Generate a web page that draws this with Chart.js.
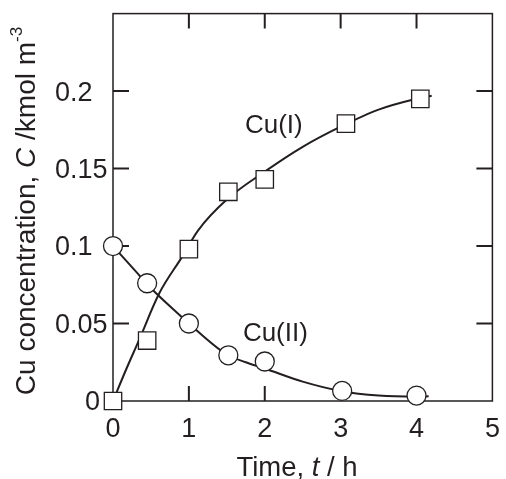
<!DOCTYPE html>
<html>
<head>
<meta charset="utf-8">
<script src="https://cdn.jsdelivr.net/npm/chart.js@4"></script>
<style>
  html, body { margin: 0; padding: 0; background: #fff; }
  #wrap { width: 506px; height: 479px; position: relative; }
</style>
</head>
<body>
<div id="wrap"><canvas id="chart"></canvas></div>
<script>
// --- data ---
const cu1Time = [0, 0.45, 1.0, 1.52, 2.0, 3.07, 4.05];
const cu1Conc = [0, 0.039, 0.098, 0.135, 0.143, 0.179, 0.195];
const cu2Time = [0, 0.45, 1.0, 1.52, 2.0, 3.02, 4.0];
const cu2Conc = [0.1, 0.076, 0.05, 0.0295, 0.0255, 0.0065, 0.0035];

// fitted curves (traced)
const cu1CurveTime = [0, 0.17, 0.34, 0.61, 0.91, 1.12, 1.5, 2.0, 2.5, 3.0, 3.5, 4.0, 4.2];
const cu1CurveConc = [0, 0.02, 0.039, 0.0695, 0.093, 0.11, 0.13, 0.148, 0.164, 0.177, 0.188, 0.195, 0.197];
const cu2CurveTime = [0, 0.33, 0.455, 0.91, 1.0, 1.5, 1.75, 2.0, 2.5, 3.0, 3.5, 4.0, 4.16];
const cu2CurveConc = [0.1, 0.082, 0.075, 0.054, 0.05, 0.03, 0.025, 0.021, 0.0125, 0.0065, 0.0035, 0.0028, 0.003];

const xTickLabels = ['0', '1', '2', '3', '4', '5'];
const yTickLabels = ['0', '0.05', '0.1', '0.15', '0.2'];

const seriesNames = ['Cu(I)', 'Cu(II)'];
const labelAnchors = [[2.12, 0.179], [2.14, 0.0445]];

const INK = '#231f20';
const FONT = '"Liberation Sans", Arial, sans-serif';

const pts = (xs, ys) => xs.map((x, i) => ({ x: x, y: ys[i] }));

// frame + inward ticks go under the marks, text on top
const decorPlugin = {
    id: 'decor',
    beforeDatasetsDraw(chart) {
        const { ctx, chartArea: a, scales } = chart;
        const xs = scales.x, ys = scales.y;
        ctx.save();
        ctx.strokeStyle = INK;
        ctx.lineWidth = 1.5;
        ctx.strokeRect(a.left, a.top, a.right - a.left, a.bottom - a.top);

        ctx.lineWidth = 2;
        ctx.beginPath();
        [1, 2, 3, 4].forEach(v => {
            const px = xs.getPixelForValue(v);
            ctx.moveTo(px, a.bottom); ctx.lineTo(px, a.bottom - 15);
            ctx.moveTo(px, a.top); ctx.lineTo(px, a.top + 15);
        });
        [0.05, 0.1, 0.15, 0.2].forEach(v => {
            const py = ys.getPixelForValue(v);
            ctx.moveTo(a.left, py); ctx.lineTo(a.left + 16, py);
            ctx.moveTo(a.right, py); ctx.lineTo(a.right - 16, py);
        });
        ctx.stroke();
        ctx.restore();
    },
    afterDraw(chart) {
        const { ctx, scales } = chart;
        const xs = scales.x, ys = scales.y;
        ctx.save();
        ctx.fillStyle = INK;
        ctx.textBaseline = 'alphabetic';

        // curve labels
        ctx.font = '26px ' + FONT;
        ctx.textAlign = 'center';
        seriesNames.forEach((name, i) => {
            const px = xs.getPixelForValue(labelAnchors[i][0]);
            const py = ys.getPixelForValue(labelAnchors[i][1]);
            ctx.fillText(name, px, py + 9);
        });

        // x title
        drawRich(ctx, [
            { t: 'Time, ' },
            { t: 't', it: true },
            { t: ' / h' }
        ], 297, 476, 27.5);

        // y title (rotated)
        ctx.translate(35, 211);
        ctx.rotate(-Math.PI / 2);
        drawRich(ctx, [
            { t: 'Cu concentration, ' },
            { t: 'C', it: true },
            { t: ' /kmol m' },
            { t: '-3', sup: true }
        ], 0, 0, 28);
        ctx.restore();
    }
};

function drawRich(ctx, parts, cx, baseY, size) {
    const fontOf = p => (p.it ? 'italic ' : '') + (p.sup ? Math.round(size * 0.62) : size) + 'px ' + FONT;
    let total = 0;
    parts.forEach(p => { ctx.font = fontOf(p); p.w = ctx.measureText(p.t).width; total += p.w; });
    let x = cx - total / 2;
    ctx.textAlign = 'left';
    parts.forEach(p => {
        ctx.font = fontOf(p);
        ctx.fillText(p.t, x, p.sup ? baseY - size * 0.45 : baseY);
        x += p.w;
    });
}

const markerBase = {
    type: 'scatter',
    showLine: false,
    pointBackgroundColor: '#fff',
    pointBorderColor: INK,
    pointBorderWidth: 1.3,
    clip: false
};
const curveBase = {
    type: 'line',
    showLine: true,
    pointRadius: 0,
    borderColor: INK,
    borderWidth: 2,
    cubicInterpolationMode: 'monotone',
    fill: false,
    clip: false
};

new Chart(document.getElementById('chart'), {
    type: 'scatter',
    data: {
        datasets: [
            { ...markerBase, label: 'Cu(I)', data: pts(cu1Time, cu1Conc), pointStyle: 'rect', pointRadius: 12.3, order: 1 },
            { ...markerBase, label: 'Cu(II)', data: pts(cu2Time, cu2Conc), pointStyle: 'circle', pointRadius: 9.5, order: 1 },
            { ...curveBase, label: 'Cu(I) fit', data: pts(cu1CurveTime, cu1CurveConc), order: 2 },
            { ...curveBase, label: 'Cu(II) fit', data: pts(cu2CurveTime, cu2CurveConc), order: 2 }
        ]
    },
    options: {
        responsive: true,
        maintainAspectRatio: false,
        animation: false,
        layout: { padding: { top: 13, right: 5, left: 55, bottom: 0 } },
        plugins: { legend: { display: false }, tooltip: { enabled: false } },
        scales: {
            x: {
                type: 'linear',
                min: 0, max: 5,
                grid: { display: false, drawTicks: false },
                border: { display: false },
                ticks: {
                    stepSize: 1,
                    padding: 12,
                    color: INK,
                    font: { family: FONT, size: 27 },
                    callback: (v, i) => xTickLabels[i]
                },
                afterFit(s) { s.height = 78; s.paddingLeft = 0; s.paddingRight = 0; }
            },
            y: {
                type: 'linear',
                min: 0, max: 0.25,
                grid: { display: false, drawTicks: false },
                border: { display: false },
                ticks: {
                    stepSize: 0.05,
                    crossAlign: 'far',
                    labelOffset: 2,
                    color: INK,
                    font: { family: FONT, size: 27 },
                    callback: (v, i) => i === 0 ? '    ' + yTickLabels[0] : (yTickLabels[i] || '')
                },
                afterFit(s) { s.width = 58; s.paddingTop = 0; s.paddingBottom = 0; }
            }
        }
    },
    plugins: [decorPlugin]
});
</script>
</body>
</html>
